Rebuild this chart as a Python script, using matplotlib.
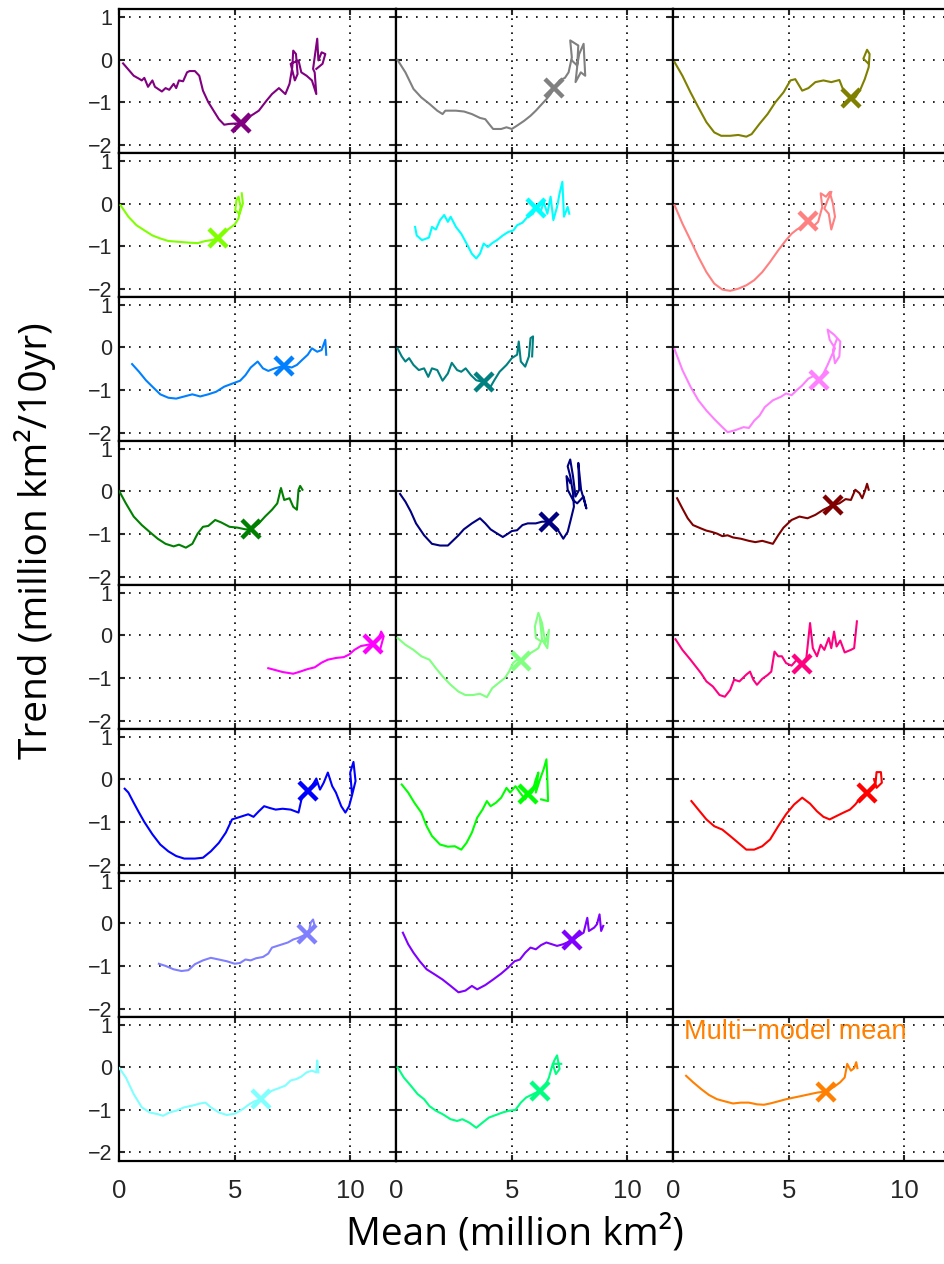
import numpy as np
import matplotlib
matplotlib.use("Agg")
import matplotlib.pyplot as plt

# panel order: row by row, 3 columns; None = empty panel
colors = ['#800080', '#808080', '#808000',
          '#80ff00', '#00ffff', '#ff8080',
          '#0080ff', '#008080', '#ff80ff',
          '#008000', '#000080', '#800000',
          '#ff00ff', '#80ff80', '#ff0080',
          '#0000ff', '#00ff00', '#ff0000',
          '#8080ff', '#8000ff', None,
          '#80ffff', '#00ff80', '#ff8000']

mean_01 = [0.16, 0.62, 0.85, 0.97, 1.08, 1.24, 1.43, 1.54, 1.84, 2.0, 2.16, 2.35, 2.46, 2.58, 2.76, 2.93, 3.04, 3.27, 3.46, 3.62, 3.85, 4.08, 4.31, 4.54, 4.77, 5.12, 5.35, 5.7, 6.04, 6.38, 6.61, 6.91, 7.19, 7.37, 7.49, 7.53, 7.65, 7.72, 7.6, 7.42, 7.76, 7.88, 8.11, 8.34, 8.53, 8.46, 8.39, 8.57, 8.62, 8.76, 8.92, 8.8, 8.53]
trend_01 = [-0.09, -0.38, -0.45, -0.49, -0.43, -0.64, -0.49, -0.64, -0.75, -0.67, -0.71, -0.57, -0.67, -0.49, -0.51, -0.3, -0.27, -0.27, -0.38, -0.73, -1.0, -1.2, -1.4, -1.53, -1.51, -1.5, -1.53, -1.32, -1.2, -0.96, -0.81, -0.67, -0.81, -0.57, -0.18, 0.21, 0.13, -0.34, -0.49, -0.1, -0.02, -0.3, -0.38, -0.49, -0.81, -0.3, -0.22, 0.49, -0.02, 0.17, 0.13, -0.1, -0.22]

mean_02 = [0.05, 0.39, 0.74, 1.08, 1.43, 1.77, 2.0, 2.12, 2.58, 2.93, 3.27, 3.62, 3.85, 4.01, 4.19, 4.54, 4.77, 5.0, 5.23, 5.53, 5.81, 6.04, 6.31, 6.5, 6.68, 6.84, 7.07, 7.3, 7.46, 7.6, 7.53, 7.88, 7.83, 7.76, 7.99, 8.18, 8.11, 7.92, 7.83, 7.6]
trend_02 = [-0.01, -0.3, -0.69, -0.89, -1.04, -1.2, -1.28, -1.2, -1.2, -1.22, -1.28, -1.37, -1.4, -1.51, -1.63, -1.63, -1.59, -1.63, -1.55, -1.44, -1.32, -1.2, -1.04, -0.93, -0.81, -0.67, -0.49, -0.43, -0.3, 0.05, 0.45, 0.33, -0.18, -0.53, -0.3, -0.38, 0.37, 0.13, -0.14, -0.02]

mean_03 = [0.05, 0.39, 0.74, 1.08, 1.43, 1.77, 2.07, 2.46, 2.81, 3.16, 3.39, 3.73, 4.08, 4.42, 4.77, 5.07, 5.28, 5.58, 5.85, 6.15, 6.5, 6.84, 7.19, 7.37, 7.7, 7.88, 8.11, 8.29, 8.46, 8.5, 8.39, 8.23, 8.46]
trend_03 = [-0.06, -0.38, -0.77, -1.12, -1.47, -1.71, -1.79, -1.79, -1.77, -1.81, -1.75, -1.51, -1.28, -1.0, -0.77, -0.49, -0.46, -0.73, -0.67, -0.53, -0.49, -0.53, -0.48, -0.73, -0.93, -0.89, -0.69, -0.46, -0.18, 0.13, 0.23, 0.02, -0.1]

mean_04 = [0.05, 0.39, 0.74, 1.08, 1.43, 1.77, 2.12, 2.58, 3.04, 3.39, 3.73, 4.08, 4.31, 4.65, 5.0, 5.16, 5.25, 5.16, 5.07, 5.02, 5.21, 5.35, 5.3]
trend_04 = [-0.04, -0.31, -0.51, -0.63, -0.75, -0.82, -0.88, -0.9, -0.92, -0.93, -0.88, -0.85, -0.8, -0.63, -0.49, -0.35, -0.08, 0.16, 0.08, -0.16, -0.24, 0.0, 0.24]

mean_05 = [0.81, 0.88, 1.11, 1.41, 1.54, 1.71, 1.89, 2.07, 2.23, 2.35, 2.58, 2.81, 3.04, 3.27, 3.46, 3.62, 3.78, 3.96, 4.15, 4.38, 4.61, 4.84, 5.07, 5.23, 5.46, 5.69, 5.92, 6.04, 6.27, 6.38, 6.54, 6.68, 6.8, 6.96, 7.07, 7.19, 7.26, 7.42, 7.49]
trend_05 = [-0.55, -0.75, -0.86, -0.8, -0.55, -0.61, -0.39, -0.27, -0.43, -0.31, -0.55, -0.71, -0.94, -1.18, -1.29, -1.18, -0.94, -1.02, -0.93, -0.85, -0.75, -0.67, -0.63, -0.51, -0.45, -0.31, -0.24, -0.08, -0.16, 0.04, -0.24, 0.16, -0.39, -0.08, 0.24, 0.51, -0.31, -0.08, -0.24]

mean_06 = [0.05, 0.39, 0.74, 1.08, 1.43, 1.77, 2.12, 2.46, 2.81, 3.16, 3.5, 3.85, 4.19, 4.54, 4.88, 5.12, 5.35, 5.58, 5.81, 6.04, 6.27, 6.45, 6.38, 6.61, 6.77, 6.91, 7.0, 6.84, 6.73, 6.54, 6.68, 6.84]
trend_06 = [-0.04, -0.47, -0.86, -1.25, -1.61, -1.88, -2.02, -2.05, -2.0, -1.92, -1.8, -1.61, -1.37, -1.1, -0.86, -0.71, -0.61, -0.55, -0.41, -0.55, -0.43, -0.08, 0.24, 0.16, 0.27, 0.0, -0.31, -0.61, -0.24, -0.12, 0.08, 0.27]

mean_07 = [0.55, 0.85, 1.15, 1.43, 1.77, 2.12, 2.46, 2.81, 3.16, 3.5, 3.85, 4.19, 4.54, 4.88, 5.23, 5.46, 5.69, 5.99, 6.22, 6.45, 6.73, 7.14, 7.46, 7.69, 7.92, 8.16, 8.34, 8.57, 8.76, 8.92, 8.96]
trend_07 = [-0.39, -0.57, -0.77, -0.92, -1.1, -1.18, -1.2, -1.15, -1.1, -1.15, -1.1, -1.04, -0.92, -0.85, -0.78, -0.65, -0.47, -0.33, -0.49, -0.55, -0.49, -0.43, -0.47, -0.41, -0.29, -0.17, -0.02, -0.1, -0.06, 0.18, -0.17]

mean_08 = [0.05, 0.23, 0.39, 0.55, 0.74, 0.97, 1.2, 1.38, 1.54, 1.77, 2.0, 2.23, 2.4, 2.63, 2.81, 3.0, 3.23, 3.46, 3.78, 4.08, 4.24, 4.47, 4.77, 5.0, 5.23, 5.3, 5.39, 5.58, 5.74, 5.81, 5.92, 5.88]
trend_08 = [-0.02, -0.21, -0.33, -0.25, -0.41, -0.53, -0.49, -0.69, -0.49, -0.53, -0.78, -0.61, -0.36, -0.53, -0.57, -0.49, -0.65, -0.77, -0.81, -0.92, -0.77, -0.57, -0.41, -0.25, -0.17, 0.14, -0.33, -0.45, -0.21, 0.22, 0.26, -0.21]

mean_09 = [0.05, 0.39, 0.74, 1.08, 1.43, 1.77, 2.12, 2.35, 2.69, 3.04, 3.27, 3.5, 3.73, 3.96, 4.31, 4.65, 4.88, 5.12, 5.35, 5.58, 5.85, 6.15, 6.31, 6.5, 6.68, 6.84, 7.0, 6.77, 6.68, 6.96, 7.23, 7.19, 7.0, 6.91, 7.07]
trend_09 = [-0.04, -0.53, -0.92, -1.24, -1.48, -1.68, -1.87, -1.99, -1.94, -1.87, -1.89, -1.72, -1.6, -1.4, -1.24, -1.16, -1.08, -1.12, -1.0, -0.89, -0.73, -0.65, -0.77, -0.61, -0.41, -0.21, -0.02, 0.18, 0.42, 0.3, 0.14, -0.21, -0.37, -0.06, 0.18]

mean_10 = [0.0, 0.28, 0.62, 0.97, 1.31, 1.66, 2.0, 2.35, 2.58, 2.88, 3.16, 3.39, 3.62, 3.85, 4.15, 4.42, 4.77, 5.12, 5.46, 5.69, 6.04, 6.31, 6.61, 6.84, 7.0, 7.14, 7.37, 7.53, 7.69, 7.76, 7.83, 7.93]
trend_10 = [0.0, -0.28, -0.59, -0.79, -0.95, -1.11, -1.23, -1.29, -1.25, -1.32, -1.23, -0.99, -0.83, -0.81, -0.67, -0.73, -0.83, -0.85, -0.89, -0.89, -0.75, -0.59, -0.43, -0.28, 0.08, -0.2, -0.16, -0.36, -0.43, 0.04, 0.13, 0.04]

mean_11 = [0.16, 0.39, 0.62, 0.85, 1.2, 1.54, 1.89, 2.23, 2.46, 2.69, 2.92, 3.27, 3.62, 3.85, 4.08, 4.31, 4.61, 4.84, 5.0, 5.23, 5.46, 5.69, 6.04, 6.31, 6.61, 6.96, 7.23, 7.42, 7.55, 7.69, 7.65, 7.53, 7.42, 7.53, 7.65, 7.76, 7.92, 7.88, 8.0, 8.23, 8.11, 7.83, 7.65, 7.42, 7.37, 7.53]
trend_11 = [-0.06, -0.24, -0.47, -0.75, -1.03, -1.23, -1.27, -1.27, -1.15, -1.03, -0.89, -0.75, -0.63, -0.75, -0.89, -0.97, -1.07, -0.99, -0.93, -0.91, -0.79, -0.75, -0.75, -0.71, -0.71, -0.87, -1.11, -0.95, -0.67, -0.36, -0.04, 0.36, 0.59, 0.75, 0.36, -0.12, 0.04, 0.67, 0.04, -0.4, -0.12, -0.28, -0.2, 0.04, 0.36, 0.2]

mean_12 = [0.16, 0.39, 0.62, 0.85, 1.2, 1.43, 1.66, 1.89, 2.12, 2.35, 2.58, 2.92, 3.27, 3.55, 3.85, 4.31, 4.54, 4.77, 5.12, 5.46, 5.81, 6.15, 6.5, 6.91, 7.19, 7.46, 7.69, 7.88, 8.06, 8.18, 8.29, 8.39, 8.46]
trend_12 = [-0.16, -0.4, -0.63, -0.79, -0.87, -0.92, -0.95, -0.99, -1.05, -1.03, -1.08, -1.11, -1.16, -1.19, -1.16, -1.23, -1.03, -0.85, -0.67, -0.59, -0.63, -0.55, -0.43, -0.32, -0.28, -0.18, -0.2, 0.04, -0.04, -0.16, 0.0, 0.18, 0.04]

mean_13 = [6.45, 6.73, 7.07, 7.53, 7.83, 8.16, 8.46, 8.76, 9.03, 9.38, 9.72, 9.95, 10.18, 10.46, 10.76, 10.99, 11.22, 11.34, 11.45, 11.29]
trend_13 = [-0.77, -0.81, -0.86, -0.9, -0.85, -0.79, -0.75, -0.64, -0.57, -0.53, -0.51, -0.45, -0.34, -0.25, -0.22, -0.2, -0.1, 0.09, -0.02, -0.34]

mean_14 = [0.05, 0.39, 0.74, 1.08, 1.43, 1.71, 2.0, 2.35, 2.69, 2.99, 3.32, 3.62, 3.92, 4.15, 4.42, 4.7, 4.88, 5.05, 5.23, 5.39, 5.69, 5.92, 6.15, 6.27, 6.04, 6.0, 6.15, 6.31, 6.45, 6.61, 6.54, 6.31, 6.22]
trend_14 = [-0.06, -0.22, -0.34, -0.49, -0.57, -0.77, -0.96, -1.16, -1.32, -1.4, -1.4, -1.37, -1.45, -1.24, -1.12, -1.0, -0.85, -0.65, -0.57, -0.61, -0.45, -0.38, -0.3, -0.14, -0.06, 0.21, 0.53, 0.29, -0.18, 0.13, -0.3, -0.1, 0.37]

mean_15 = [0.09, 0.39, 0.74, 0.97, 1.2, 1.43, 1.71, 2.0, 2.23, 2.46, 2.63, 2.86, 3.16, 3.32, 3.46, 3.62, 3.85, 4.08, 4.24, 4.38, 4.54, 4.7, 4.88, 5.12, 5.35, 5.58, 5.76, 5.92, 6.04, 6.22, 6.38, 6.54, 6.73, 6.84, 6.96, 7.07, 7.23, 7.42, 7.69, 7.83, 7.95]
trend_15 = [-0.09, -0.34, -0.57, -0.73, -0.89, -1.08, -1.2, -1.4, -1.44, -1.28, -1.04, -1.08, -0.92, -0.85, -1.04, -1.16, -1.02, -0.93, -0.85, -0.38, -0.49, -0.49, -0.65, -0.71, -0.57, -0.67, -0.53, 0.29, -0.3, -0.49, -0.22, -0.34, -0.06, -0.3, 0.09, -0.26, -0.12, -0.4, -0.34, -0.3, 0.33]

mean_16 = [0.23, 0.39, 0.62, 0.85, 1.08, 1.43, 1.77, 2.12, 2.46, 2.81, 3.27, 3.62, 3.96, 4.31, 4.61, 4.88, 5.12, 5.35, 5.58, 5.81, 6.04, 6.27, 6.5, 6.77, 7.07, 7.42, 7.76, 7.92, 8.16, 8.34, 8.53, 8.69, 8.85, 9.03, 9.22, 9.38, 9.61, 9.79, 9.95, 10.07, 10.23, 10.14, 10.0, 10.07]
trend_16 = [-0.22, -0.31, -0.55, -0.78, -1.0, -1.29, -1.53, -1.69, -1.8, -1.86, -1.86, -1.84, -1.69, -1.49, -1.25, -0.94, -0.9, -0.86, -0.82, -0.88, -0.75, -0.63, -0.67, -0.71, -0.69, -0.71, -0.78, -0.39, -0.27, -0.16, 0.02, -0.24, -0.08, 0.16, -0.16, -0.31, -0.63, -0.78, -0.63, -0.39, -0.04, 0.41, 0.16, -0.31]

mean_17 = [0.23, 0.51, 0.78, 1.08, 1.31, 1.54, 1.89, 2.23, 2.53, 2.81, 3.04, 3.27, 3.5, 3.73, 3.92, 4.08, 4.31, 4.54, 4.77, 4.93, 5.16, 5.35, 5.58, 5.69, 5.88, 6.04, 6.15, 6.04, 6.22, 6.38, 6.5, 6.54, 6.57, 6.27]
trend_17 = [-0.12, -0.31, -0.55, -0.78, -1.1, -1.33, -1.53, -1.58, -1.57, -1.65, -1.49, -1.25, -0.9, -0.71, -0.51, -0.63, -0.55, -0.43, -0.2, -0.31, -0.16, -0.31, -0.47, -0.35, -0.31, 0.0, 0.16, -0.31, 0.0, 0.24, 0.47, 0.0, -0.51, -0.47]

mean_18 = [0.78, 1.08, 1.43, 1.77, 2.12, 2.46, 2.81, 3.16, 3.5, 3.85, 4.19, 4.54, 4.88, 5.23, 5.58, 5.92, 6.22, 6.5, 6.77, 7.07, 7.37, 7.65, 7.88, 8.11, 8.39, 8.57, 8.76, 8.8, 8.99, 9.03, 8.8, 8.69]
trend_18 = [-0.51, -0.71, -0.94, -1.1, -1.18, -1.33, -1.49, -1.65, -1.65, -1.57, -1.41, -1.1, -0.82, -0.59, -0.43, -0.57, -0.75, -0.88, -0.94, -0.86, -0.78, -0.71, -0.59, -0.43, -0.31, -0.24, -0.08, 0.17, 0.17, -0.08, -0.2, 0.0]

mean_19 = [1.71, 2.0, 2.35, 2.69, 2.99, 3.27, 3.62, 3.96, 4.31, 4.65, 5.0, 5.23, 5.46, 5.69, 5.92, 6.22, 6.45, 6.61, 6.84, 7.07, 7.3, 7.53, 7.76, 7.92, 8.11, 8.23, 8.29, 8.39, 8.46]
trend_19 = [-0.95, -1.0, -1.08, -1.12, -1.1, -0.96, -0.87, -0.81, -0.85, -0.89, -0.95, -0.93, -0.85, -0.87, -0.82, -0.79, -0.71, -0.57, -0.53, -0.49, -0.45, -0.38, -0.34, -0.3, -0.26, -0.14, 0.02, 0.09, -0.06]

mean_20 = [0.28, 0.51, 0.74, 1.01, 1.31, 1.66, 2.0, 2.35, 2.69, 2.99, 3.27, 3.5, 3.85, 4.19, 4.54, 4.84, 5.12, 5.35, 5.58, 5.81, 6.04, 6.27, 6.5, 6.73, 6.96, 7.23, 7.6, 7.88, 8.11, 8.27, 8.34, 8.57, 8.69, 8.8, 8.87, 8.96]
trend_20 = [-0.22, -0.49, -0.69, -0.89, -1.08, -1.2, -1.32, -1.47, -1.62, -1.58, -1.47, -1.55, -1.45, -1.32, -1.18, -1.04, -0.89, -0.85, -0.69, -0.57, -0.61, -0.51, -0.45, -0.49, -0.53, -0.49, -0.4, -0.3, -0.22, 0.13, -0.18, -0.1, -0.02, 0.21, -0.18, -0.06]

mean_22 = [0.0, 0.28, 0.62, 0.97, 1.31, 1.66, 1.89, 2.17, 2.46, 2.81, 3.16, 3.5, 3.73, 3.96, 4.31, 4.65, 5.0, 5.35, 5.62, 5.85, 6.15, 6.38, 6.61, 6.91, 7.19, 7.42, 7.65, 7.88, 8.11, 8.34, 8.53, 8.57, 8.62]
trend_22 = [-0.02, -0.24, -0.63, -0.94, -1.06, -1.1, -1.14, -1.06, -1.02, -0.94, -0.9, -0.85, -0.83, -0.94, -1.06, -1.12, -1.09, -0.98, -0.87, -0.8, -0.75, -0.63, -0.55, -0.49, -0.43, -0.31, -0.28, -0.22, -0.12, -0.08, -0.12, 0.16, -0.12]

mean_23 = [0.05, 0.32, 0.62, 0.92, 1.2, 1.43, 1.71, 2.0, 2.35, 2.63, 2.86, 3.16, 3.46, 3.73, 4.01, 4.31, 4.61, 4.88, 5.16, 5.39, 5.62, 5.92, 6.22, 6.45, 6.61, 6.73, 6.84, 6.96, 7.07, 6.91, 6.77, 7.14]
trend_23 = [0.0, -0.24, -0.43, -0.63, -0.75, -0.91, -1.02, -1.1, -1.22, -1.26, -1.22, -1.3, -1.42, -1.3, -1.18, -1.12, -1.06, -1.02, -1.0, -0.83, -0.71, -0.63, -0.55, -0.43, -0.24, 0.0, 0.16, 0.28, -0.04, -0.16, 0.08, 0.08]

mean_24 = [0.55, 0.85, 1.2, 1.54, 1.89, 2.23, 2.58, 2.92, 3.27, 3.62, 3.92, 4.19, 4.54, 4.88, 5.23, 5.58, 5.92, 6.27, 6.61, 6.96, 7.23, 7.42, 7.53, 7.69, 7.83, 7.92, 7.97]
trend_24 = [-0.2, -0.35, -0.51, -0.65, -0.75, -0.8, -0.85, -0.83, -0.83, -0.87, -0.88, -0.85, -0.8, -0.75, -0.71, -0.67, -0.63, -0.59, -0.57, -0.46, -0.35, -0.24, 0.08, -0.08, -0.02, 0.12, -0.02]

means = [mean_01, mean_02, mean_03, mean_04, mean_05, mean_06, mean_07, mean_08,
         mean_09, mean_10, mean_11, mean_12, mean_13, mean_14, mean_15, mean_16,
         mean_17, mean_18, mean_19, mean_20, None, mean_22, mean_23, mean_24]
trends = [trend_01, trend_02, trend_03, trend_04, trend_05, trend_06, trend_07, trend_08,
          trend_09, trend_10, trend_11, trend_12, trend_13, trend_14, trend_15, trend_16,
          trend_17, trend_18, trend_19, trend_20, None, trend_22, trend_23, trend_24]

# position of the "x" marker in each panel
mark_x = [5.25, 6.84, 7.7, 4.28, 6.05, 5.81, 7.14, 3.78, 6.31, 5.69, 6.61, 6.91,
          10.99, 5.39, 5.58, 8.16, 5.69, 8.39, 8.11, 7.6, None, 6.15, 6.22, 6.61]
mark_y = [-1.48, -0.67, -0.9, -0.8, -0.1, -0.41, -0.43, -0.81, -0.77, -0.89, -0.71, -0.32,
          -0.2, -0.61, -0.67, -0.27, -0.35, -0.31, -0.26, -0.4, None, -0.75, -0.55, -0.57]

W, H = 945, 1264
fig = plt.figure(figsize=(W / 100, H / 100), dpi=100)

left_px, top_px = 119.4, 9.3
col_w, row_h = 277.0, 143.96
nrows, ncols = 8, 3

for i in range(nrows * ncols):
    r, c = divmod(i, ncols)
    ax = fig.add_axes([(left_px + c * col_w) / W,
                       1 - (top_px + (r + 1) * row_h) / H,
                       col_w / W, row_h / H])
    if colors[i] is None:
        ax.axis('off')
        continue
    ax.plot(means[i], trends[i], color=colors[i], lw=1.5, zorder=3)
    ax.plot(mark_x[i], mark_y[i], marker='x', color=colors[i], ms=13,
            mew=3.2, zorder=4)
    ax.set_xlim(0, 12)
    ax.set_ylim(-2.2, 1.18)
    ax.set_xticks([0, 5, 10])
    ax.set_yticks([-2, -1, 0, 1])
    # vertical grid lines: dense dots, horizontal: wider spaced dots
    ax.xaxis.grid(True, color='black', linestyle=(0, (1, 3.2)), lw=1.2)
    ax.yaxis.grid(True, color='black', linestyle=(0, (1, 5)), lw=1.2)
    ax.tick_params(direction='in', length=4, width=1.5, top=True, right=True,
                   colors='#262626')
    ax.tick_params(axis='x', labelsize=18.5, pad=13)
    ax.tick_params(axis='y', labelsize=15.5, pad=5)
    for s in ax.spines.values():
        s.set_linewidth(1.6)
    if c != 0:
        ax.set_yticklabels([])
    if r != nrows - 1:
        ax.set_xticklabels([])
    for lab in ax.get_xticklabels() + ax.get_yticklabels():
        lab.set_family('Liberation Sans')
    if i == nrows * ncols - 1:
        ax.text(0.45, 0.52, 'Multi\u2212model mean', color=colors[i],
                fontsize=19.5, family='Liberation Sans', va='bottom')

fig.text(35 / W, 1 - 541 / H, 'Trend (million km\u00b2/10yr)', rotation=90,
         ha='center', va='center', fontsize=28, family='Open Sans')
fig.text(515 / W, 1 - 1234 / H, 'Mean (million km\u00b2)', ha='center',
         va='center', fontsize=28, family='Open Sans')

fig.savefig('out.png', dpi=100)
